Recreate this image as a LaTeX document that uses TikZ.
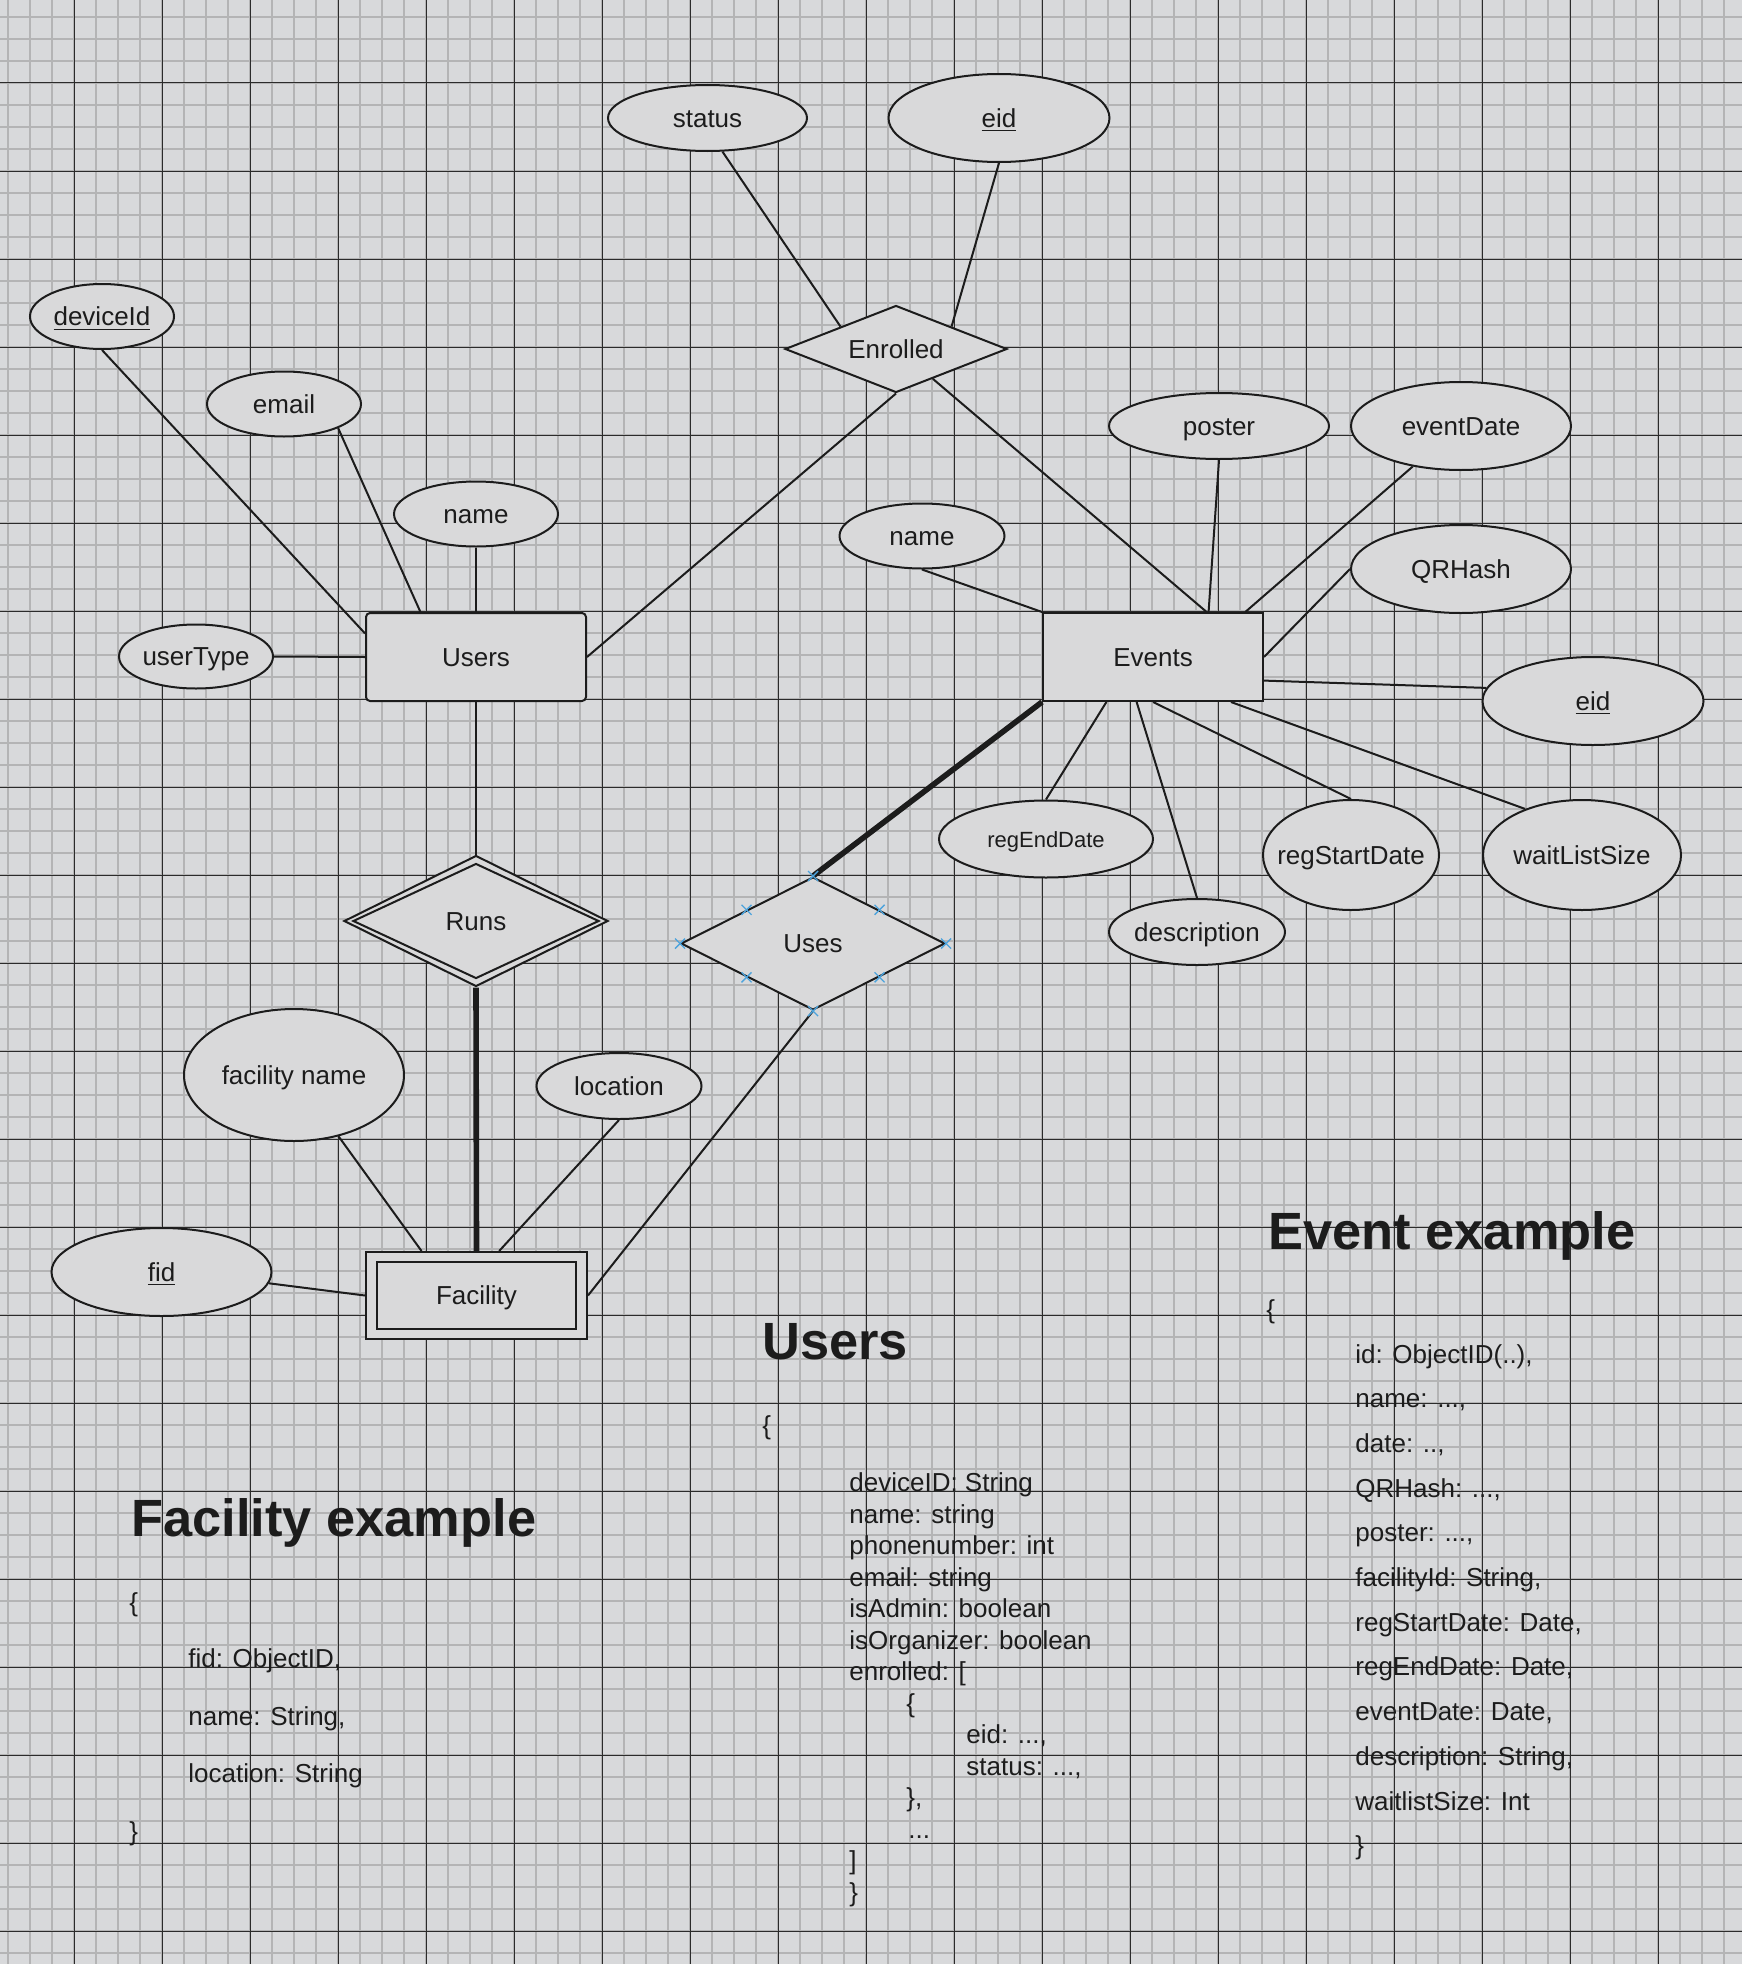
\documentclass[tikz,border=0pt]{standalone}
\usepackage{fontspec}
\setmainfont{Liberation Sans}
\usetikzlibrary{shapes.geometric,calc}
\definecolor{paper}{HTML}{D8D9DB}
\definecolor{fillc}{HTML}{D9D9DA}
\definecolor{minorc}{HTML}{B4B4B5}
\definecolor{majorc}{HTML}{2B2B2B}
\definecolor{ink}{HTML}{1C1C1C}
\definecolor{handlec}{HTML}{4DA3DC}
\newcommand\lblfont{\fontsize{13}{15}\selectfont}
\newcommand\smlblfont{\fontsize{11}{13}\selectfont}
\newcommand\headfont{\fontsize{26.2}{30}\selectfont\bfseries}
\newcommand\codefont{\fontsize{13}{15}\selectfont}
\tikzset{
  minorline/.style={draw=minorc, line width=1pt},
  majorline/.style={draw=majorc, line width=0.5pt},
  ent/.style={rectangle, draw=ink, fill=fillc, line width=1pt, inner sep=0pt},
  attr/.style={ellipse, draw=ink, fill=fillc, line width=1pt, inner sep=0pt},
  rel/.style={diamond, draw=ink, fill=fillc, line width=1pt, inner sep=0pt},
  conn/.style={draw=ink, line width=1pt},
  heavy/.style={draw=ink, line width=2.8pt},
  handle/.style={draw=handlec, line width=0.7pt},
  every label/.style={font=\lblfont, text=ink, inner sep=0pt, text height=9.4pt, text depth=0pt},
  smalllabel/.style={font=\smlblfont, text height=8pt, text depth=0pt},
  head/.style={font=\headfont, text=ink, inner sep=0pt, anchor=base west},
  code/.style={font=\codefont, text=ink, inner sep=0pt, anchor=base west},
}
\begin{document}
\begin{tikzpicture}[x=0.5pt,y=-0.5pt]
\useasboundingbox (0,0) rectangle (1742,1964);
\fill[paper] (0,0) rectangle (1742,1964);
% grid
\foreach \x in {8,30,...,1740} \draw[minorline] (\x,0) -- (\x,1964);
\foreach \y in {17,39,...,1963} \draw[minorline] (0,\y) -- (1742,\y);
\foreach \x in {74,162,...,1740} \draw[majorline] (\x,0) -- (\x,1964);
\foreach \y in {83,171,...,1963} \draw[majorline] (0,\y) -- (1742,\y);

% entities
\node[ent, rounded corners=2pt, minimum width=110pt, minimum height=44pt, label={center:Users}] (Users) at (476,657) {};
\node[ent, minimum width=110pt, minimum height=44pt, label={center:Events}] (Events) at (1153,657) {};
\node[ent, minimum width=110.5pt, minimum height=43.5pt, label={center:Facility}] (Fac) at (476.5,1295.5) {};
\node[ent, fill=none, minimum width=99.5pt, minimum height=33.5pt] (FacIn) at (Fac.center) {};

% relationships
\node[rel, minimum width=111pt, minimum height=43.5pt, label={center:Enrolled}] (Enrolled) at (896,349) {};
\node[rel, minimum width=132pt, minimum height=65.5pt, label={center:Runs}] (Runs) at (476,921) {};
\node[rel, fill=none, minimum width=123pt, minimum height=57.5pt] (RunsIn) at (Runs.center) {};
\node[rel, minimum width=132pt, minimum height=66.5pt, label={center:Uses}] (Uses) at (813,943.5) {};

% attributes
\node[attr, minimum width=99.5pt, minimum height=33pt, label={center:status}] (status) at (707.5,118) {};
\node[attr, minimum width=110.5pt, minimum height=44pt, label={center:\underline{eid}}] (eidA) at (999,118) {};
\node[attr, minimum width=72pt, minimum height=32.5pt, label={center:\underline{deviceId}}] (deviceId) at (102,316.5) {};
\node[attr, minimum width=77pt, minimum height=32.5pt, label={center:email}] (email) at (284,404) {};
\node[attr, minimum width=82pt, minimum height=32.5pt, label={center:name}] (uname) at (476,514) {};
\node[attr, minimum width=77pt, minimum height=32pt, label={center:userType}] (userType) at (196,656.5) {};
\node[attr, minimum width=110pt, minimum height=66pt, label={center:facility name}] (fname) at (294,1075) {};
\node[attr, minimum width=82.5pt, minimum height=33pt, label={center:location}] (location) at (619,1086) {};
\node[attr, minimum width=110pt, minimum height=44pt, label={center:\underline{fid}}] (fid) at (161.5,1272) {};
\node[attr, minimum width=82.5pt, minimum height=32.5pt, label={center:name}] (ename) at (922,536) {};
\node[attr, minimum width=110pt, minimum height=33pt, label={center:poster}] (poster) at (1219,426) {};
\node[attr, minimum width=110pt, minimum height=44pt, label={center:eventDate}] (eventDate) at (1461,426) {};
\node[attr, minimum width=110pt, minimum height=44pt, label={center:QRHash}] (QRHash) at (1461,569) {};
\node[attr, minimum width=110.5pt, minimum height=44pt, label={center:\underline{eid}}] (eidB) at (1593,701) {};
\node[attr, minimum width=107pt, minimum height=38.5pt, label={[smalllabel]center:regEndDate}] (regEnd) at (1046,839) {};
\node[attr, minimum width=88pt, minimum height=33pt, label={center:description}] (descr) at (1197,932) {};
\node[attr, minimum width=88pt, minimum height=55pt, label={center:regStartDate}] (regStart) at (1351,855) {};
\node[attr, minimum width=99pt, minimum height=55pt, label={center:waitListSize}] (wait) at (1582,855) {};

% connectors
\draw[conn] (status.-66) -- (Enrolled.158);
\draw[conn] (eidA.south) -- (Enrolled.22);
\draw[conn] (Enrolled.south) -- (Users.east);
\draw[conn] (Enrolled.-39) -- (Events.40);
\draw[conn] (deviceId.south) -- (Users.168);
\draw[conn] (email.-24) -- (Users.141);
\draw[conn] (uname.south) -- (Users.north);
\draw[conn] (userType.east) -- (Users.west);
\draw[conn] (Users.south) -- (Runs.north);
\draw[heavy] (Runs.south) -- (Fac.north);
\draw[conn] (fname.-54) -- (Fac.141);
\draw[conn] (location.south) -- (Fac.63);
\draw[conn] (fid.-6) -- (Fac.west);
\draw[conn] (Uses.south) -- (Fac.east);
\draw[heavy] (Events.south west) -- (Uses.north);
\draw[conn] (ename.south) -- (Events.north west);
\draw[conn] (poster.south) -- (Events.39);
\draw[conn] (eventDate.220) -- (Events.26);
\draw[conn] (QRHash.west) -- (Events.east);
\draw[conn] (eidB.173) -- (Events.-12);
\draw[conn] (wait.141) -- (Events.-30);
\draw[conn] (regStart.north) -- (Events.south);
\draw[conn] (descr.north) -- (Events.-110);
\draw[conn] (regEnd.north) -- (Events.-136);

% selection handles on Uses
\coordinate (h1) at (Uses.north);
\coordinate (h2) at (Uses.east);
\coordinate (h3) at (Uses.south);
\coordinate (h4) at (Uses.west);
\coordinate (h5) at ($(Uses.north)!0.5!(Uses.east)$);
\coordinate (h6) at ($(Uses.east)!0.5!(Uses.south)$);
\coordinate (h7) at ($(Uses.south)!0.5!(Uses.west)$);
\coordinate (h8) at ($(Uses.west)!0.5!(Uses.north)$);
\foreach \h in {h1,h2,h3,h4,h5,h6,h7,h8} {
  \draw[handle] ([xshift=-2.5pt,yshift=-2.5pt]\h) -- ([xshift=2.5pt,yshift=2.5pt]\h);
  \draw[handle] ([xshift=-2.5pt,yshift=2.5pt]\h) -- ([xshift=2.5pt,yshift=-2.5pt]\h);
}

% Facility example
\node[head] (fhead) at (131,1536) {Facility example};
\node[code] (f1) at (129,1611) {\{};
\node[code] (f2) at (188,1667) {fid: ObjectID,};
\node[code] (f3) at (188,1725) {name: String,};
\node[code] (f4) at (188,1782) {location: String};
\node[code] (f5) at (129,1840) {\}};

% Users example
\node[head] (uhead) at (762,1359) {Users};
\node[code] (u0) at (762,1434) {\{};
\node[code] (u1) at (849,1491.5) {deviceID: String};
\node[code] (u2) at (849,1523) {name: string};
\node[code] (u3) at (849,1554.5) {phonenumber: int};
\node[code] (u4) at (849,1586) {email: string};
\node[code] (u5) at (849,1617.5) {isAdmin: boolean};
\node[code] (u6) at (849,1649) {isOrganizer: boolean};
\node[code] (u7) at (849,1680.5) {enrolled: [};
\node[code] (u8) at (906,1712) {\{};
\node[code] (u9) at (966,1743.5) {eid: ...,};
\node[code] (u10) at (966,1775) {status: ...,};
\node[code] (u11) at (906,1806.5) {\},};
\node[code] (u12) at (908,1838) {...};
\node[code] (u13) at (849,1869.5) {]};
\node[code] (u14) at (849,1901) {\}};

% Event example
\node[head] (ehead) at (1268,1249) {Event example};
\node[code] (e0) at (1266,1318) {\{};
\node[code] (e1) at (1355,1363) {id: ObjectID(..),};
\node[code] (e2) at (1355,1407.7) {name: ...,};
\node[code] (e3) at (1355,1452.4) {date: ..,};
\node[code] (e4) at (1355,1497.1) {QRHash: ...,};
\node[code] (e5) at (1355,1541.8) {poster: ...,};
\node[code] (e6) at (1355,1586.5) {facilityId: String,};
\node[code] (e7) at (1355,1631.2) {regStartDate: Date,};
\node[code] (e8) at (1355,1675.9) {regEndDate: Date,};
\node[code] (e9) at (1355,1720.6) {eventDate: Date,};
\node[code] (e10) at (1355,1765.3) {description: String,};
\node[code] (e11) at (1355,1810) {waitlistSize: Int};
\node[code] (e12) at (1355,1854.7) {\}};
\end{tikzpicture}
\end{document}
